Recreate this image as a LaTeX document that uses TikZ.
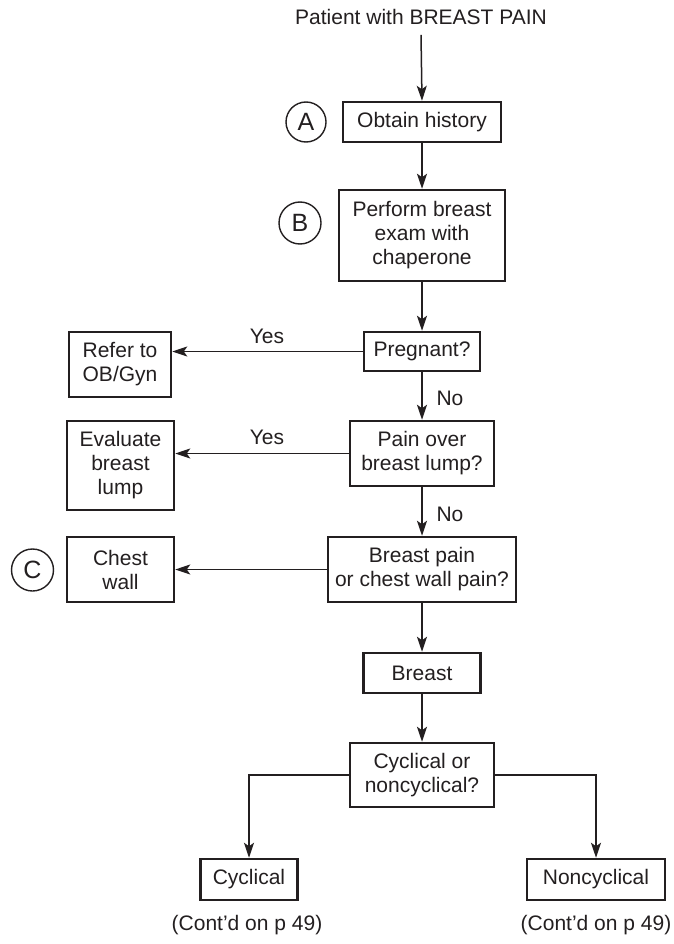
\documentclass[tikz,border=0pt]{standalone}
\usepackage{fontspec}
\setmainfont{Liberation Sans}
\usetikzlibrary{arrows.meta}

\definecolor{ink}{RGB}{35,31,32}

\begin{document}
\begin{tikzpicture}[
  x=1pt, y=-1pt,
  every node/.style={text=ink, font=\fontsize{21}{24}\selectfont, align=center, inner sep=0pt},
  stepbox/.style={draw=ink, line width=2.5pt},
  marker/.style={draw=ink, circle, line width=1.4pt, minimum size=#1, font=\fontsize{25}{26}\selectfont},
  arr/.style={draw=ink, line width=1.5pt, -{Stealth[length=15pt, width=10pt, inset=3.5pt]}},
  lbl/.style={font=\fontsize{21}{24}\selectfont}
]
  % page area
  \useasboundingbox[fill=white] (0,0) rectangle (673,944);

  % heading
  \node[inner ysep=10pt] (title) at (421,17) {Patient with BREAST PAIN};

  % main column
  \node[stepbox, minimum width=158pt, minimum height=40pt] (obtain) at (422,122) {Obtain history};
  \node[stepbox, minimum width=166pt, minimum height=91pt] (exam) at (422,235.5) {Perform breast\\exam with\\chaperone};
  \node[stepbox, minimum width=116pt, minimum height=39pt] (preg) at (422,351.5) {Pregnant?};
  \node[stepbox, minimum width=144pt, minimum height=65pt] (lumpq) at (422,453.5) {Pain over\\breast lump?};
  \node[stepbox, minimum width=188pt, minimum height=65pt] (bpcw) at (422,569.5) {Breast pain\\or chest wall pain?};
  \node[stepbox, minimum width=117pt, minimum height=40pt] (breast) at (422,673) {Breast};
  \node[stepbox, minimum width=144pt, minimum height=64pt] (cyc) at (422,775) {Cyclical or\\noncyclical?};

  % side outcomes
  \node[stepbox, minimum width=102pt, minimum height=65pt] (refer) at (120,364.5) {Refer to\\OB/Gyn};
  \node[stepbox, minimum width=107pt, minimum height=89pt] (evallump) at (120.5,465.5) {Evaluate\\breast\\lump};
  \node[stepbox, minimum width=107pt, minimum height=65pt] (chest) at (120.5,569.5) {Chest\\wall};

  % final outcomes
  \node[stepbox, minimum width=97pt, minimum height=41pt] (cyclical) at (249,879.5) {Cyclical};
  \node[stepbox, minimum width=138pt, minimum height=41pt] (noncyc) at (596,879.5) {Noncyclical};
  \node (contL) at (247,925) {(Cont’d on p 49)};
  \node (contR) at (596,925) {(Cont’d on p 49)};

  % step markers
  \node[marker=40pt] (markA) at (306,122) {A};
  \node[marker=42pt] (markB) at (300,223) {B};
  \node[marker=42pt] (markC) at (32.5,570) {C};

  % flow
  \draw[arr] (title.south) -- (obtain.north);
  \draw[arr] (obtain.south) -- (exam.north);
  \draw[arr] (exam.south) -- (preg.north);
  \draw[arr] (preg.south) -- (lumpq.north);
  \draw[arr] (lumpq.south) -- (bpcw.north);
  \draw[arr] (bpcw.south) -- (breast.north);
  \draw[arr] (breast.south) -- (cyc.north);

  \draw[arr] (preg.west) -- (preg.west -| refer.east);
  \draw[arr] (lumpq.west) -- (lumpq.west -| evallump.east);
  \draw[arr] (bpcw.west) -- (bpcw.west -| chest.east);

  \draw[arr] (cyc.west) -| (cyclical.north);
  \draw[arr] (cyc.east) -| (noncyc.north);

  % branch labels
  \node[lbl] (yes1) at (267,336) {Yes};
  \node[lbl] (yes2) at (267,437) {Yes};
  \node[lbl] (no1) at (450,398) {No};
  \node[lbl] (no2) at (450,514) {No};
\end{tikzpicture}
\end{document}
